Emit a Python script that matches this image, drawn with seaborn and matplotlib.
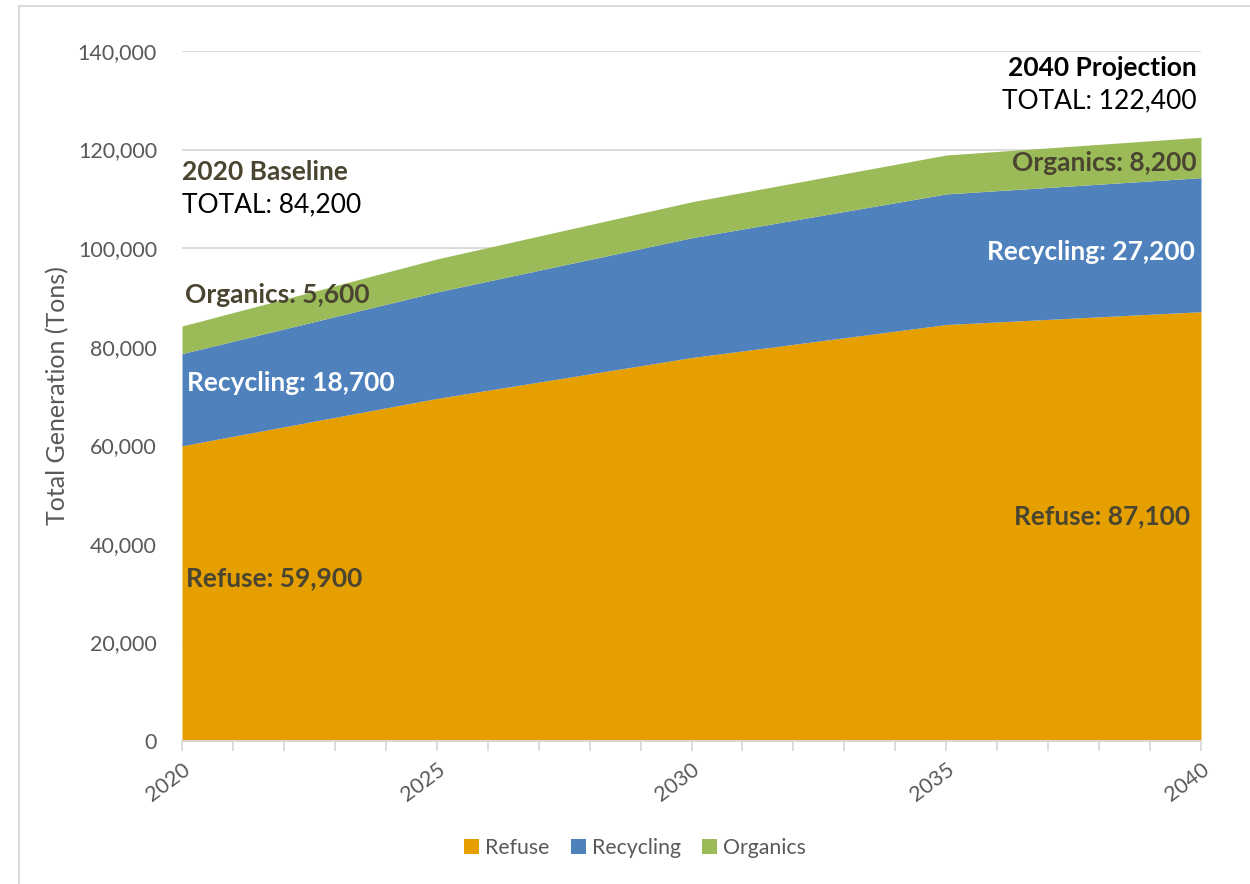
import matplotlib
matplotlib.use("Agg")
import matplotlib.pyplot as plt
from matplotlib.patches import Rectangle, Patch
from matplotlib.ticker import FuncFormatter, MultipleLocator
import seaborn as sns
import numpy as np

# Waste generation by stream, tons
years = [2020, 2025, 2030, 2035, 2040]
refuse = [59900, 69500, 77800, 84500, 87100]
recycling = [18700, 21600, 24300, 26500, 27200]
organics = [5600, 6700, 7300, 7900, 8200]
streams = ["Refuse", "Recycling", "Organics"]
colors = ["#E5A000", "#4F81BD", "#9BBB59"]

sns.set_theme(style="white")
plt.rcParams["font.family"] = ["Lato", "DejaVu Sans"]

label_col = "#4A4530"
grey = "#595959"

fig = plt.figure(figsize=(12.5, 8.84), dpi=100)
ax = fig.add_axes([182 / 1250, 1 - 741 / 884, (1201 - 182) / 1250, (741 - 51) / 884])

# outer chart border
fig.patches.append(Rectangle((19 / 1250, -0.05), 1.2, 1 - 6 / 884 + 0.05,
                             transform=fig.transFigure, fill=False,
                             edgecolor="#D9D9D9", linewidth=1.5))

ax.stackplot(years, refuse, recycling, organics, colors=colors,
             labels=streams, linewidth=0)

ax.set_xlim(2020, 2040)
ax.set_ylim(0, 140000)
ax.yaxis.set_major_locator(MultipleLocator(20000))
ax.yaxis.set_major_formatter(FuncFormatter(lambda v, p: f"{int(v):,}"))
ax.grid(axis="y", color="#D9D9D9", linewidth=1.3)
ax.set_axisbelow(True)
for s in ["top", "right", "left"]:
    ax.spines[s].set_visible(False)
ax.spines["bottom"].set_color("#D9D9D9")
ax.spines["bottom"].set_linewidth(1.3)

ax.set_xticks(list(range(2020, 2041)), minor=True)
ax.set_xticks(years)
ax.set_xticklabels([str(y) for y in years], rotation=37, ha="right",
                   rotation_mode="anchor", fontsize=15.5, color=grey)
ax.tick_params(axis="x", which="both", bottom=True, length=7, width=1.3,
               color="#D9D9D9", pad=6)
ax.tick_params(axis="y", left=False, labelsize=15.5, labelcolor=grey, pad=12)
ax.set_ylabel("Total Generation (Tons)", fontsize=18, color=grey, labelpad=6)

# stream annotations
fs = 19
ax.text(2020, 115450, "2020 Baseline", fontsize=fs, fontweight="bold",
        color=label_col, va="center", ha="left")
ax.text(2020, 108750, "TOTAL: 84,200", fontsize=fs, color="black",
        va="center", ha="left")
ax.text(2020.05, 90490, f"Organics: {organics[0]:,}", fontsize=fs,
        fontweight="bold", color=label_col, va="center", ha="left")
ax.text(2020.1, 72630, f"Recycling: {recycling[0]:,}", fontsize=fs,
        fontweight="bold", color="white", va="center", ha="left")
ax.text(2020.08, 33070, f"Refuse: {refuse[0]:,}", fontsize=fs,
        fontweight="bold", color=label_col, va="center", ha="left")

ax.text(2039.92, 136540, "2040 Projection", fontsize=fs, fontweight="bold",
        color="black", va="center", ha="right")
ax.text(2039.92, 129840, "TOTAL: 122,400", fontsize=fs, color="black",
        va="center", ha="right")
ax.text(2039.92, 117270, f"Organics: {organics[-1]:,}", fontsize=fs,
        fontweight="bold", color=label_col, va="center", ha="right")
ax.text(2039.88, 99210, f"Recycling: {recycling[-1]:,}", fontsize=fs,
        fontweight="bold", color="white", va="center", ha="right")
ax.text(2039.78, 45650, f"Refuse: {refuse[-1]:,}", fontsize=fs,
        fontweight="bold", color=label_col, va="center", ha="right")

handles = [Patch(facecolor=c, edgecolor="none") for c in colors]
fig.legend(handles, streams, loc="center", bbox_to_anchor=(635 / 1250, 1 - 848 / 884),
           ncol=3, frameon=False, fontsize=15.3, labelcolor=grey,
           handlelength=0.7, handleheight=0.7, handletextpad=0.3, columnspacing=1.0)

fig.savefig("out.png", dpi=100)
